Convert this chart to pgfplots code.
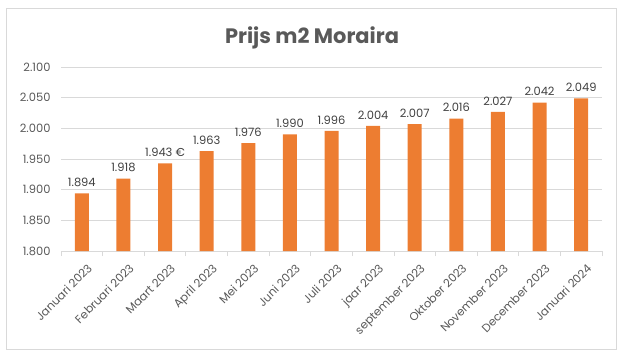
\documentclass[border=0pt]{standalone}
\usepackage{pgfplots}
\usepackage{pgfplotstable}
\pgfplotsset{compat=1.18}
\usepackage{fontspec}
\setmainfont{Poppins}
\definecolor{barorange}{HTML}{ED7D31}
\definecolor{gridgray}{HTML}{D9D9D9}
\definecolor{txtgray}{HTML}{595959}
\definecolor{lblgray}{HTML}{404040}

\pgfplotstableread[col sep=comma]{
x,y,lbl
0,1894,1.894
1,1918,1.918
2,1943,1.943 €
3,1963,1.963
4,1976,1.976
5,1990,1.990
6,1996,1.996
7,2004,2.004
8,2007,2.007
9,2016,2.016
10,2027,2.027
11,2042,2.042
12,2049,2.049
}\datatable

\begin{document}
\begin{tikzpicture}[x=1bp,y=1bp]
\path[use as bounding box] (0,0) rectangle (624,361);
\draw[gridgray, line width=0.8bp] (6.5,12) rectangle (616,353);
\node[font=\fontsize{21}{25}\selectfont\bfseries, text=txtgray, anchor=base] at (312,318) {Prijs m2 Moraira};
\begin{axis}[
  at={(61bp,110bp)}, anchor=south west,
  scale only axis, width=541bp, height=184bp,
  /pgf/number format/assume math mode=true,
  xmin=-0.5, xmax=12.5,
  ymin=1800, ymax=2100,
  ytick={1800,1850,...,2100},
  scaled y ticks=false,
  yticklabel style={/pgf/number format/fixed, /pgf/number format/1000 sep={.}, font=\fontsize{11.5}{13}\selectfont, text=txtgray, xshift=-7bp},
  ymajorgrids, grid style={gridgray, line width=0.8bp},
  axis lines*=left,
  y axis line style={draw=none},
  x axis line style={gridgray, line width=0.8bp},
  xtick={0,...,12},
  xticklabels={Januari 2023,Februari 2023,Maart 2023,April 2023,Mei 2023,Juni 2023,Juli 2023,jaar 2023,september 2023,Oktober 2023,November 2023,December 2023,Januari 2024},
  xticklabel style={font=\fontsize{11.5}{13}\selectfont, text=txtgray, rotate=45, anchor=north east, inner sep=1bp, yshift=-11bp, xshift=-4bp},
  minor xtick={-0.5,0.5,...,12.5},
  major x tick style={draw=none},
  major y tick style={draw=none},
  minor x tick style={gridgray, line width=0.8bp},
  minor tick length=5bp,
  major tick length=0pt,
  tick align=outside,
  clip=false,
]
\addplot[ybar, bar width=14bp, fill=barorange, draw=none,
  nodes near coords, point meta=explicit symbolic,
  every node near coord/.append style={font=\fontsize{11.5}{13}\selectfont, text=lblgray, anchor=south, yshift=3bp}]
  table[x=x, y=y, meta=lbl] {\datatable};
\end{axis}
\end{tikzpicture}
\end{document}
